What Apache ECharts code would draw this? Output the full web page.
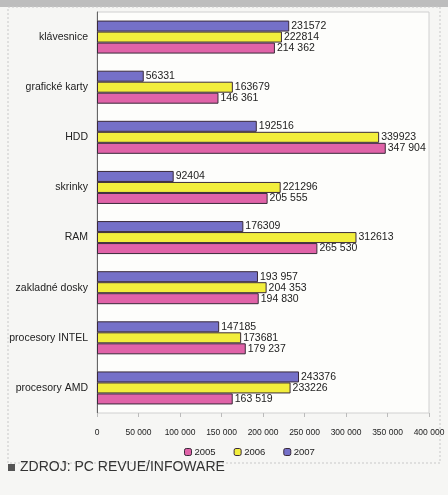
<!DOCTYPE html>
<html><head><meta charset="utf-8">
<script src="https://cdn.jsdelivr.net/npm/echarts@6/dist/echarts.min.js"></script>
<style>html,body{margin:0;padding:0;background:#f6f6f4;}#c{width:448px;height:495px;}</style>
</head><body><div id="c"></div>
<script>
const categories = ['klávesnice','grafické karty','HDD','skrinky','RAM','zakladné dosky','procesory INTEL','procesory AMD'];
const v2005 = [214362,146361,347904,205555,265530,194830,179237,163519];
const v2006 = [222814,163679,339923,221296,312613,204353,173681,233226];
const v2007 = [231572,56331,192516,92404,176309,193957,147185,243376];
const l2005 = ['214 362','146 361','347 904','205 555','265 530','194 830','179 237','163 519'];
const l2006 = ['222814','163679','339923','221296','312613','204 353','173681','233226'];
const l2007 = ['231572','56331','192516','92404','176309','193 957','147185','243376'];
const xTicks = ['0','50 000','100 000','150 000','200 000','250 000','300 000','350 000','400 000'];
const years = ['2005','2006','2007'];

const chart = echarts.init(document.getElementById('c'));
function mk(name, data, labels, color){
  return {name, type:'bar', data, barWidth:11, barGap:'0%',
    itemStyle:{color, borderColor:'#3a2a3a', borderWidth:1},
    label:{show:true, position:'right', distance:2, fontSize:10.5, fontFamily:'Liberation Sans, Arial', color:'#222',
      formatter:p=>labels[p.dataIndex]}};
}
chart.setOption({
  backgroundColor:'#f6f6f4',
  animation:false,
  graphic:[
    {type:'rect', shape:{x:0,y:0,width:448,height:7}, style:{fill:'#bdbdbd'}},
    {type:'rect', shape:{x:8,y:7,width:432,height:456}, style:{fill:'none', stroke:'#c8c8c8', lineWidth:1, lineDash:[2,2]}},
    {type:'rect', shape:{x:97,y:12,width:332,height:401}, style:{fill:'#fdfdfb', stroke:'#d0d0d0', lineWidth:1}, z:-1},
    {type:'rect', shape:{x:8,y:464,width:7,height:7}, style:{fill:'#555'}},
    {type:'text', left:20, top:460, style:{text:'ZDROJ: PC REVUE/INFOWARE', font:'14px "Liberation Sans", Arial', fill:'#333'}}
  ],
  grid:{left:97, right:19, top:12, bottom:82},
  legend:{data:years, bottom:33, left:179, itemWidth:7, itemHeight:7, itemGap:18,
    textStyle:{fontSize:9.5, fontFamily:'Liberation Sans, Arial', color:'#222', padding:[0,0,0,-2]},
    itemStyle:{borderColor:'#3a2a3a', borderWidth:1}},
  xAxis:{type:'value', min:0, max:400000, interval:50000,
    axisLine:{show:false}, splitLine:{show:false},
    axisTick:{show:true, length:4, lineStyle:{color:'#bbb'}},
    axisLabel:{fontSize:8.5, fontFamily:'Liberation Sans, Arial', color:'#222', margin:15,
      formatter:(v)=>xTicks[Math.round(v/50000)]}},
  yAxis:{type:'category', data:categories, inverse:true,
    axisLine:{show:true, lineStyle:{color:'#666'}}, axisTick:{show:false},
    axisLabel:{fontSize:10.5, fontFamily:'Liberation Sans, Arial', color:'#222', margin:9}},
  series:[mk('2007', v2007, l2007, '#7570c8'), mk('2006', v2006, l2006, '#f2ee3c'), mk('2005', v2005, l2005, '#e063a8')]
});
</script></body></html>
